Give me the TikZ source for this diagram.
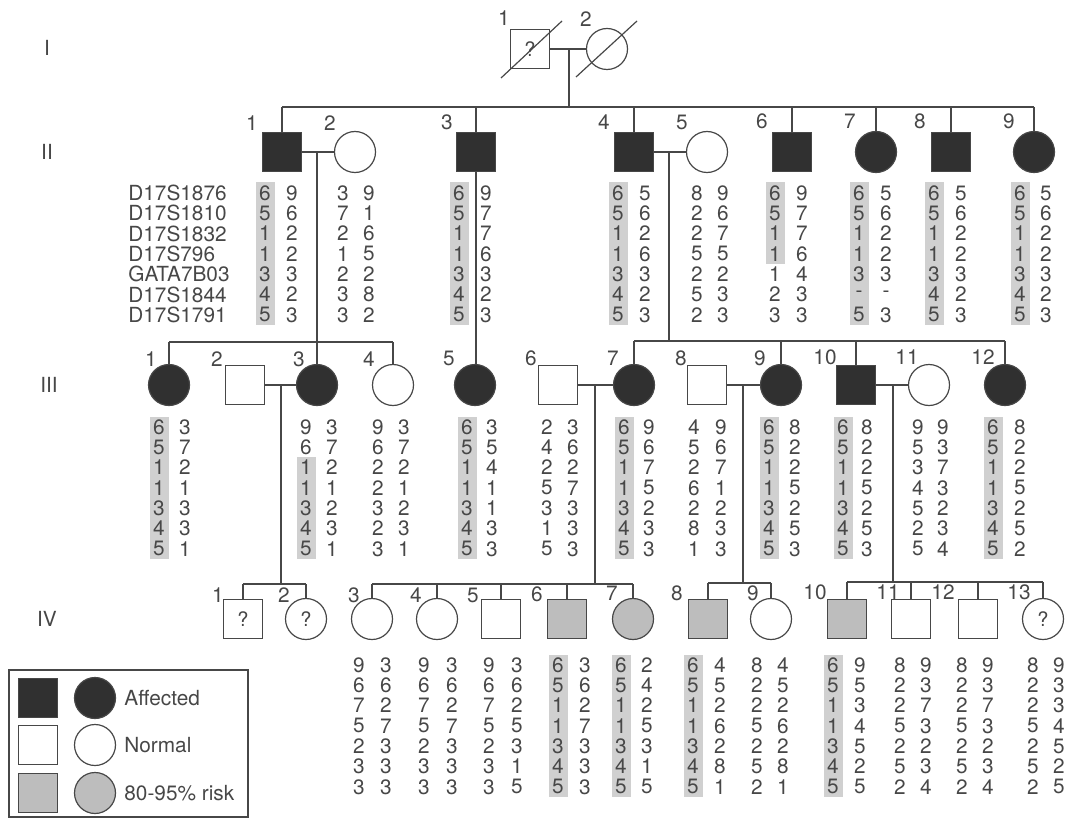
\documentclass[tikz,border=0pt]{standalone}
\usepackage{fontspec}
\setmainfont{TeX Gyre Heros}

\definecolor{ink}{HTML}{474747}
\definecolor{affgray}{HTML}{303030}
\definecolor{riskgray}{HTML}{BDBDBD}
\definecolor{hlgray}{HTML}{D0D0D0}

\tikzset{
  link/.style={draw=ink, line width=0.6pt},
  male/.style={rectangle, draw=ink, line width=0.6pt, minimum size=19.5pt, inner sep=0pt, text=ink},
  female/.style={circle, draw=ink, line width=0.6pt, minimum size=20.5pt, inner sep=0pt, text=ink},
  aff/.style={fill=affgray},
  risk/.style={fill=riskgray},
  allele/.style={text=ink, inner sep=0pt, font=\fontsize{10.4}{12}\selectfont},
  num/.style={allele},
}

% haplotype: name, left x, right x, top y, pairs
\newcommand{\haplo}[5]{%
  \foreach \a/\b [count=\r from 0] in {#5} {
    \node[allele] (#1a\r) at (#2,{#4+\r*20.3}) {\a};
    \node[allele] (#1b\r) at (#3,{#4+\r*20.3}) {\b};
  }}
% shaded allele run: x, top y, first row, last row
\newcommand{\hilite}[4]{%
  \fill[hlgray] ({#1-9.5},{#2+(#3-1)*20.3-10.5}) rectangle ({#1+9.5},{#2+(#4-1)*20.3+10.5});}

\begin{document}
\begin{tikzpicture}[x=0.5pt,y=-0.5pt]
\useasboundingbox (0,0) rectangle (1069,818);

% Generations
\node[num] (gI) at (47,48) {I};
\node[num] (gII) at (47,152) {II};
\node[num] (gIII) at (49,385) {III};
\node[num] (gIV) at (47,619) {IV};

% Generation I
\node[male] (I1) at (530,49) {?};
\node[female] (I2) at (607,49) {};
\draw[link] (I1.center) ++(-29,29) -- ++(61,-57);
\draw[link] (I2.center) ++(-31,28) -- ++(61,-56);
\node[num] (lI1) at (504,18) {1};
\node[num] (lI2) at (586,19) {2};

% Generation II
\node[male,aff] (II1) at (282,152) {};
\node[female] (II2) at (355,152) {};
\node[male,aff] (II3) at (476,152) {};
\node[male,aff] (II4) at (634,152) {};
\node[female] (II5) at (707,152) {};
\node[male,aff] (II6) at (792,152) {};
\node[female,aff] (II7) at (876,152) {};
\node[male,aff] (II8) at (951,152) {};
\node[female,aff] (II9) at (1034,152) {};

\node[num] (lII1) at (252,123) {1};
\node[num] (lII2) at (330,123) {2};
\node[num] (lII3) at (447,122) {3};
\node[num] (lII4) at (604,122) {4};
\node[num] (lII5) at (682,122) {5};
\node[num] (lII6) at (762,121) {6};
\node[num] (lII7) at (850,121) {7};
\node[num] (lII8) at (920,121) {8};
\node[num] (lII9) at (1009,121) {9};

\coordinate (mI) at (569,49);
\coordinate (sII) at (569,107);
\draw[link] (I1) -- (I2);
\draw[link] (mI) -- (sII);
\draw[link] (II1.north |- sII) -- (II9.north |- sII);
\foreach \c in {II1,II3,II4,II6,II7,II8,II9}
  \draw[link] (\c.north |- sII) -- (\c.north);

% Markers
\foreach \m [count=\r from 0] in {D17S1876,D17S1810,D17S1832,D17S796,GATA7B03,D17S1844,D17S1791}
  \node[allele, anchor=west] (mk\r) at (128,{193+\r*20.3}) {\m};

\hilite{265}{193}{1}{7}
\hilite{459}{193}{1}{7}
\hilite{618}{193}{1}{7}
\hilite{775}{193}{1}{4}
\hilite{859}{193}{1}{7}
\hilite{934}{193}{1}{7}
\hilite{1020}{193}{1}{7}

\haplo{hII1}{265}{292}{193}{6/9,5/6,1/2,1/2,3/3,4/2,5/3}
\haplo{hII2}{343}{369}{193}{3/9,7/1,2/6,1/5,2/2,3/8,3/2}
\haplo{hII3}{459}{486}{193}{6/9,5/7,1/7,1/6,3/3,4/2,5/3}
\haplo{hII4}{618}{645}{193}{6/5,5/6,1/2,1/6,3/3,4/2,5/3}
\haplo{hII5}{697}{723}{193}{8/9,2/6,2/7,5/5,2/2,5/3,2/3}
\haplo{hII6}{775}{802}{193}{6/9,5/7,1/7,1/6,1/4,2/3,3/3}
\haplo{hII7}{859}{886}{193}{6/5,5/6,1/2,1/2,3/3,-/-,5/3}
\haplo{hII8}{934}{961}{193}{6/5,5/6,1/2,1/2,3/3,4/2,5/3}
\haplo{hII9}{1020}{1046}{193}{6/5,5/6,1/2,1/2,3/3,4/2,5/3}

% Generation III
\node[female,aff] (III1) at (169,385) {};
\node[male] (III2) at (245,385) {};
\node[female,aff] (III3) at (317,385) {};
\node[female] (III4) at (393,385) {};
\node[female,aff] (III5) at (475,385) {};
\node[male] (III6) at (558,385) {};
\node[female,aff] (III7) at (634,385) {};
\node[male] (III8) at (707,385) {};
\node[female,aff] (III9) at (781,385) {};
\node[male,aff] (III10) at (856,385) {};
\node[female] (III11) at (929,385) {};
\node[female,aff] (III12) at (1005,385) {};

\node[num] (lIII1) at (151,359) {1};
\node[num] (lIII2) at (217,359) {2};
\node[num] (lIII3) at (299,359) {3};
\node[num] (lIII4) at (369,359) {4};
\node[num] (lIII5) at (449,358) {5};
\node[num] (lIII6) at (531,358) {6};
\node[num] (lIII7) at (613,358) {7};
\node[num] (lIII8) at (681,358) {8};
\node[num] (lIII9) at (760,358) {9};
\node[num] (lIII10) at (825,357) {10};
\node[num] (lIII11) at (907,357) {11};
\node[num] (lIII12) at (983,357) {12};

\coordinate (mII12) at (317,152);
\coordinate (sIIIa) at (317,342);
\draw[link] (II1) -- (II2);
\draw[link] (mII12) -- (sIIIa);
\draw[link] (III1.north |- sIIIa) -- (III4.north |- sIIIa);
\foreach \c in {III1,III3,III4}
  \draw[link] (\c.north |- sIIIa) -- (\c.north);

\draw[link] (II3.south) -- (II3.south |- III5.north);

\coordinate (mII45) at (669,152);
\coordinate (sIIIb) at (669,341);
\draw[link] (II4) -- (II5);
\draw[link] (mII45) -- (sIIIb);
\draw[link] (III7.north |- sIIIb) -- (III12.north |- sIIIb);
\foreach \c in {III7,III9,III10,III12}
  \draw[link] (\c.north |- sIIIb) -- (\c.north);

\hilite{159}{427}{1}{7}
\hilite{306}{427}{3}{7}
\hilite{467}{427}{1}{7}
\hilite{624}{427}{1}{7}
\hilite{769}{427}{1}{7}
\hilite{843}{427}{1}{7}
\hilite{993}{427}{1}{7}

\haplo{hIII1}{159}{185}{427}{6/3,5/7,1/2,1/1,3/3,4/3,5/1}
\haplo{hIII3}{306}{332}{427}{9/3,6/7,1/2,1/1,3/2,4/3,5/1}
\haplo{hIII4}{378}{404}{427}{9/3,6/7,2/2,2/1,3/2,2/3,3/1}
\haplo{hIII5}{467}{492}{427}{6/3,5/5,1/4,1/1,3/1,4/3,5/3}
\haplo{hIII6}{547}{573}{427}{2/3,4/6,2/2,5/7,3/3,1/3,5/3}
\haplo{hIII7}{624}{649}{427}{6/9,5/6,1/7,1/5,3/2,4/3,5/3}
\haplo{hIII8}{694}{721}{427}{4/9,5/6,2/7,6/1,2/2,8/3,1/3}
\haplo{hIII9}{769}{795}{427}{6/8,5/2,1/2,1/5,3/2,4/5,5/3}
\haplo{hIII10}{843}{867}{427}{6/8,5/2,1/2,1/5,3/2,4/5,5/3}
\haplo{hIII11}{918}{943}{427}{9/9,5/3,3/7,4/3,5/2,2/3,5/4}
\haplo{hIII12}{993}{1020}{427}{6/8,5/2,1/2,1/5,3/2,4/5,5/2}

% Generation IV
\node[male] (IV1) at (243,619) {?};
\node[female] (IV2) at (306,619) {?};
\node[female] (IV3) at (372,619) {};
\node[female] (IV4) at (437,619) {};
\node[male] (IV5) at (501,619) {};
\node[male,risk] (IV6) at (567,619) {};
\node[female,risk] (IV7) at (633,619) {};
\node[male,risk] (IV8) at (708,619) {};
\node[female] (IV9) at (771,619) {};
\node[male,risk] (IV10) at (847,619) {};
\node[male] (IV11) at (911,619) {};
\node[male] (IV12) at (978,619) {};
\node[female] (IV13) at (1043,619) {?};

\node[num] (lIV1) at (218,595) {1};
\node[num] (lIV2) at (284,595) {2};
\node[num] (lIV3) at (354,595) {3};
\node[num] (lIV4) at (416,595) {4};
\node[num] (lIV5) at (473,595) {5};
\node[num] (lIV6) at (537,594) {6};
\node[num] (lIV7) at (612,593) {7};
\node[num] (lIV8) at (677,593) {8};
\node[num] (lIV9) at (753,593) {9};
\node[num] (lIV10) at (815,592) {10};
\node[num] (lIV11) at (888,592) {11};
\node[num] (lIV12) at (943,592) {12};
\node[num] (lIV13) at (1019,592) {13};

\coordinate (mIII23) at (281,385);
\coordinate (sIVa) at (281,584);
\draw[link] (III2) -- (III3);
\draw[link] (mIII23) -- (sIVa);
\draw[link] (IV1.north |- sIVa) -- (IV2.north |- sIVa);
\foreach \c in {IV1,IV2}
  \draw[link] (\c.north |- sIVa) -- (\c.north);

\coordinate (mIII67) at (595,385);
\coordinate (sIVb) at (595,584);
\draw[link] (III6) -- (III7);
\draw[link] (mIII67) -- (sIVb);
\draw[link] (IV3.north |- sIVb) -- (IV7.north |- sIVb);
\foreach \c in {IV3,IV4,IV5,IV6,IV7}
  \draw[link] (\c.north |- sIVb) -- (\c.north);

\coordinate (mIII89) at (743,385);
\coordinate (sIVc) at (743,583);
\draw[link] (III8) -- (III9);
\draw[link] (mIII89) -- (sIVc);
\draw[link] (IV8.north |- sIVc) -- (IV9.north |- sIVc);
\foreach \c in {IV8,IV9}
  \draw[link] (\c.north |- sIVc) -- (\c.north);

\coordinate (mIII1011) at (893,385);
\coordinate (sIVd) at (893,582);
\draw[link] (III10) -- (III11);
\draw[link] (mIII1011) -- (sIVd);
\draw[link] (IV10.north |- sIVd) -- (IV13.north |- sIVd);
\foreach \c in {IV10,IV11,IV12,IV13}
  \draw[link] (\c.north |- sIVd) -- (\c.north);

\hilite{558}{665}{1}{7}
\hilite{621}{665}{1}{7}
\hilite{693}{665}{1}{7}
\hilite{833}{665}{1}{7}

\haplo{hIV3}{359}{386}{665}{9/3,6/6,7/2,5/7,2/3,3/3,3/3}
\haplo{hIV4}{424}{452}{665}{9/3,6/6,7/2,5/7,2/3,3/3,3/3}
\haplo{hIV5}{489}{517}{665}{9/3,6/6,7/2,5/5,2/3,3/1,3/5}
\haplo{hIV6}{558}{585}{665}{6/3,5/6,1/2,1/7,3/3,4/3,5/3}
\haplo{hIV7}{621}{647}{665}{6/2,5/4,1/2,1/5,3/3,4/1,5/5}
\haplo{hIV8}{693}{720}{665}{6/4,5/5,1/2,1/6,3/2,4/8,5/1}
\haplo{hIV9}{757}{783}{665}{8/4,2/5,2/2,5/6,2/2,5/8,2/1}
\haplo{hIV10}{833}{860}{665}{6/9,5/5,1/3,1/4,3/5,4/2,5/5}
\haplo{hIV11}{900}{926}{665}{8/9,2/3,2/7,5/3,2/2,5/3,2/4}
\haplo{hIV12}{962}{988}{665}{8/9,2/3,2/7,5/3,2/2,5/3,2/4}
\haplo{hIV13}{1033}{1059}{665}{8/9,2/3,2/3,5/4,2/5,5/2,2/5}

% Legend
\draw[link] (9,670) rectangle (248,817);
\node[male,aff] (kA1) at (38,698) {};
\node[female,aff] (kA2) at (95,698) {};
\node[allele, anchor=west] (kA) at (124,698) {Affected};
\node[male] (kN1) at (38,745) {};
\node[female] (kN2) at (95,745) {};
\node[allele, anchor=west] (kN) at (124,745) {Normal};
\node[male,risk] (kR1) at (38,793) {};
\node[female,risk] (kR2) at (95,793) {};
\node[allele, anchor=west] (kR) at (124,793) {80-95\% risk};

\end{tikzpicture}
\end{document}
